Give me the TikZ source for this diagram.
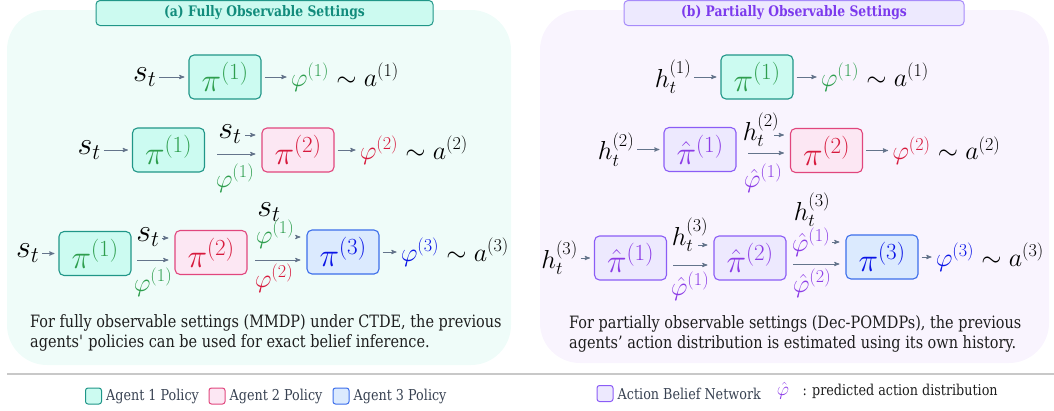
\RequirePackage{fix-cm}
\documentclass[tikz,border=0pt]{standalone}
\usepackage{amsmath}
\usepackage{fontspec}
\setmainfont{DejaVu Serif}[FakeStretch=0.85]
\usetikzlibrary{arrows, positioning}

\definecolor{paneA}{RGB}{239,252,249}
\definecolor{paneB}{RGB}{249,244,254}
\definecolor{tealtitle}{RGB}{204,250,240}
\definecolor{tealline}{RGB}{32,150,136}
\definecolor{tealtext}{RGB}{18,140,124}
\definecolor{tealfill}{RGB}{204,251,241}
\definecolor{greenA}{RGB}{46,158,78}
\definecolor{pinkfill}{RGB}{252,231,243}
\definecolor{pinkline}{RGB}{225,70,125}
\definecolor{redB}{RGB}{215,25,60}
\definecolor{bluefill}{RGB}{219,234,254}
\definecolor{blueline}{RGB}{60,110,235}
\definecolor{blueC}{RGB}{10,20,230}
\definecolor{viofill}{RGB}{237,233,254}
\definecolor{violine}{RGB}{139,92,246}
\definecolor{viotext}{RGB}{140,60,230}
\definecolor{viotitleline}{RGB}{167,139,250}
\definecolor{viotitletext}{RGB}{124,58,237}
\definecolor{arrowc}{RGB}{100,116,139}
\definecolor{sepgray}{RGB}{200,200,200}
\definecolor{bodytext}{RGB}{30,30,30}
\definecolor{legendtext}{RGB}{55,65,81}

\newcommand{\obssz}{\fontsize{32}{36}\selectfont}
\newcommand{\histsz}{\fontsize{26}{30}\selectfont}
\newcommand{\polsz}{\fontsize{33}{36}\selectfont}
\newcommand{\actsz}{\fontsize{26}{30}\selectfont}

\begin{document}
\begin{tikzpicture}[x=1pt, y=-1pt, >=stealth',
  arr/.style={->, draw=arrowc, line width=0.9pt, shorten >=4pt, shorten <=3pt},
  feed/.style={->, draw=arrowc, line width=0.9pt, shorten >=6pt},
  pol/.style={rounded corners=5pt, line width=1.1pt, minimum width=72pt, minimum height=44pt, inner sep=0pt, font=\polsz},
  agone/.style={pol, draw=tealline, fill=tealfill, text=greenA},
  agtwo/.style={pol, draw=pinkline, fill=pinkfill, text=redB},
  agthree/.style={pol, draw=blueline, fill=bluefill, text=blueC},
  belief/.style={pol, draw=violine, fill=viofill, text=viotext},
  obs/.style={inner sep=0pt, font=\obssz},
  hist/.style={inner sep=0pt, font=\histsz},
  act/.style={inner sep=0pt, font=\actsz},
  paneltitle/.style={rounded corners=4pt, line width=1pt, minimum height=25pt, font=\fontsize{14.5}{16}\selectfont\bfseries},
  remark/.style={inner sep=0pt, anchor=north west, align=left, text=bodytext, font=\fontsize{17}{20}\selectfont},
  legbox/.style={rounded corners=2.5pt, line width=1pt, minimum size=16pt, inner sep=0pt},
  legtext/.style={inner sep=0pt, text=legendtext, font=\fontsize{15}{18}\selectfont}]

  \useasboundingbox (0,0) rectangle (1054,410);

  % panels
  \fill[paneA, rounded corners=40pt] (7,10) rectangle (511,365);
  \fill[paneB, rounded corners=40pt] (540,10) rectangle (1049,363);
  \node[paneltitle, draw=tealline, fill=tealtitle, text=tealtext, minimum width=337pt] (ttlA) at (264.5,13) {(a) Fully Observable Settings};
  \node[paneltitle, draw=viotitleline, fill=viofill, text=viotitletext, minimum width=340pt] (ttlB) at (794,13) {(b) Partially Observable Settings};

  % (a) agent 1
  \node[agone] (a11) at (225,77) {$\pi^{(1)}$};
  \node[obs, left=32pt of a11] (s11) {$s_t$};
  \node[act, right=29pt of a11] (o11) {$\textcolor{greenA}{\varphi^{(1)}} \sim a^{(1)}$};
  \draw[arr] (s11) -- (a11);
  \draw[arr] (a11) -- (o11);

  % (a) agent 2
  \node[agone] (a21) at (168.5,150) {$\pi^{(1)}$};
  \node[agtwo] (a22) at (298,150) {$\pi^{(2)}$};
  \node[obs, left=31pt of a21] (s21) {$s_t$};
  \node[act, right=25pt of a22] (o22) {$\textcolor{redB}{\varphi^{(2)}} \sim a^{(2)}$};
  \draw[arr] (s21) -- (a21);
  \draw[arr] (a22) -- (o22);
  \node[obs] (s22) at (230,134) {$s_t$};
  \node[act, text=greenA] (p221) at (235,178) {$\varphi^{(1)}$};
  \coordinate (f22) at (245,135);
  \coordinate (m22) at (217,154);
  \draw[feed] (f22) -- (f22 -| a22.west);
  \draw[feed] (m22) -- (m22 -| a22.west);

  % (a) agent 3
  \node[agone] (a31) at (95,253.5) {$\pi^{(1)}$};
  \node[agtwo] (a32) at (211,252.5) {$\pi^{(2)}$};
  \node[agthree] (a33) at (343,252) {$\pi^{(3)}$};
  \node[obs, left=19pt of a31] (s31) {$s_t$};
  \node[act, right=21pt of a33] (o33) {$\textcolor{blueC}{\varphi^{(3)}} \sim a^{(3)}$};
  \draw[arr] (s31) -- (a31);
  \draw[arr] (a33) -- (o33);
  \node[obs] (s32) at (148,237) {$s_t$};
  \node[act, text=greenA] (p321) at (153,282) {$\varphi^{(1)}$};
  \coordinate (f32) at (162,238);
  \coordinate (m32) at (137,260);
  \draw[feed] (f32) -- (f32 -| a32.west);
  \draw[feed] (m32) -- (m32 -| a32.west);
  \node[obs] (s33) at (269,212) {$s_t$};
  \node[act, text=greenA] (p331) at (275,234) {$\varphi^{(1)}$};
  \node[act, text=redB] (p332) at (274,278) {$\varphi^{(2)}$};
  \coordinate (f33) at (296,237);
  \coordinate (m33) at (255,260);
  \draw[feed] (f33) -- (f33 -| a33.west);
  \draw[feed] (m33) -- (m33 -| a33.west);

  \node[remark] (nA) at (30,314) {For fully observable settings (MMDP) under CTDE, the previous\\agents\textquotesingle{} policies can be used for exact belief inference.};

  % (b) agent 1
  \node[agone] (c11) at (757,77) {$\pi^{(1)}$};
  \node[hist, left=29pt of c11] (h11) {$h_t^{(1)}$};
  \node[act, right=27pt of c11] (q11) {$\textcolor{greenA}{\varphi^{(1)}} \sim a^{(1)}$};
  \draw[arr] (h11) -- (c11);
  \draw[arr] (c11) -- (q11);

  % (b) agent 2
  \node[belief] (c21) at (700,149.5) {$\hat{\pi}^{(1)}$};
  \node[agtwo] (c22) at (826.5,150.5) {$\pi^{(2)}$};
  \node[hist, left=29pt of c21] (h21) {$h_t^{(2)}$};
  \node[act, right=29pt of c22] (q22) {$\textcolor{redB}{\varphi^{(2)}} \sim a^{(2)}$};
  \draw[arr] (h21) -- (c21);
  \draw[arr] (c22) -- (q22);
  \node[hist] (h22) at (761,130) {$h_t^{(2)}$};
  \node[act, text=viotext] (e221) at (763,178) {$\hat{\varphi}^{(1)}$};
  \coordinate (g22) at (774,135);
  \coordinate (n22) at (748,153);
  \draw[feed] (g22) -- (g22 -| c22.west);
  \draw[feed] (n22) -- (n22 -| c22.west);

  % (b) agent 3
  \node[belief] (c31) at (630.5,258) {$\hat{\pi}^{(1)}$};
  \node[belief] (c32) at (750,258) {$\hat{\pi}^{(2)}$};
  \node[agthree] (c33) at (882,257) {$\pi^{(3)}$};
  \node[hist, left=16pt of c31] (h31) {$h_t^{(3)}$};
  \node[act, right=17pt of c33] (q33) {$\textcolor{blueC}{\varphi^{(3)}} \sim a^{(3)}$};
  \draw[arr] (h31) -- (c31);
  \draw[arr] (c33) -- (q33);
  \node[hist] (h32) at (690,235) {$h_t^{(3)}$};
  \node[act, text=viotext] (e321) at (690,286) {$\hat{\varphi}^{(1)}$};
  \coordinate (g32) at (698,245);
  \coordinate (n32) at (673,265);
  \draw[feed] (g32) -- (g32 -| c32.west);
  \draw[feed] (n32) -- (n32 -| c32.west);
  \node[hist] (h33) at (812,210) {$h_t^{(3)}$};
  \node[act, text=viotext] (e331) at (811,242) {$\hat{\varphi}^{(1)}$};
  \node[act, text=viotext] (e332) at (812,283) {$\hat{\varphi}^{(2)}$};
  \coordinate (g33) at (832,242);
  \coordinate (n33) at (793,264);
  \draw[feed] (g33) -- (g33 -| c33.west);
  \draw[feed] (n33) -- (n33 -| c33.west);

  \node[remark] (nB) at (569,315) {For partially observable settings (Dec-POMDPs), the previous\\agents’ action distribution is estimated using its own history.};

  % legend
  \draw[sepgray, line width=1.5pt] (7,374) -- (1054,374);
  \node[legbox, draw=tealline, fill=tealfill] (k1) at (93.5,396) {};
  \node[legtext, right=4pt of k1] (k1t) {Agent 1 Policy};
  \node[legbox, draw=pinkline, fill=pinkfill] (k2) at (217,396) {};
  \node[legtext, right=4pt of k2] (k2t) {Agent 2 Policy};
  \node[legbox, draw=blueline, fill=bluefill] (k3) at (341,396) {};
  \node[legtext, right=4pt of k3] (k3t) {Agent 3 Policy};
  \node[legbox, draw=violine, fill=viofill] (k4) at (605,393.5) {};
  \node[legtext, right=4pt of k4] (k4t) {Action Belief Network};
  \node[inner sep=0pt, text=viotext, font=\fontsize{19}{21}\selectfont] (k5) at (783,391) {$\hat{\varphi}$};
  \node[legtext, text=bodytext, right=13pt of k5] (k5t) {: predicted action distribution};

\end{tikzpicture}
\end{document}
